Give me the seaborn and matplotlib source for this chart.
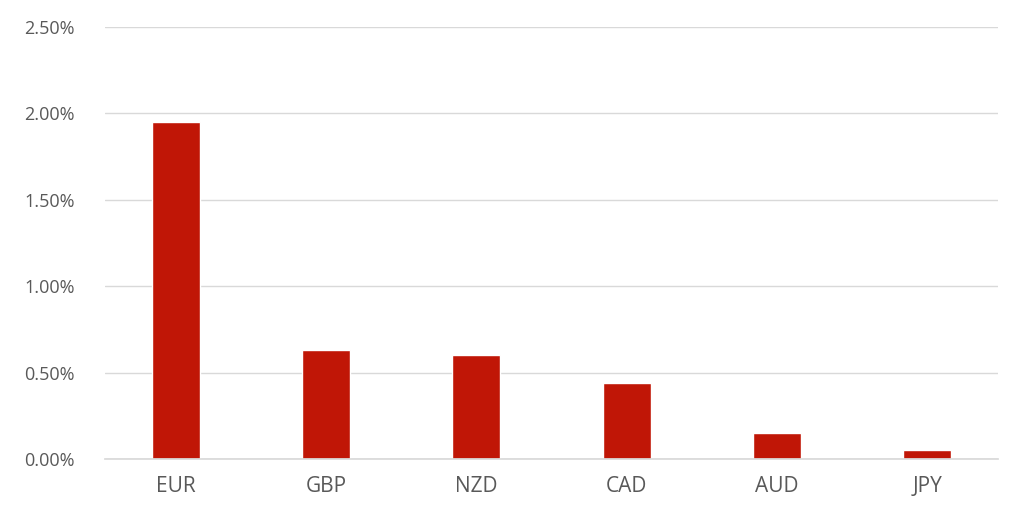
import matplotlib
matplotlib.use("Agg")
import matplotlib.pyplot as plt
import seaborn as sns
import pandas as pd
from matplotlib.ticker import FuncFormatter

currencies = ["EUR", "GBP", "NZD", "CAD", "AUD", "JPY"]
values = [1.95, 0.63, 0.60, 0.44, 0.15, 0.05]
df = pd.DataFrame({"cur": currencies, "val": values})

sns.set_theme(style="white")
plt.rcParams['font.family'] = ['Open Sans', 'DejaVu Sans']

fig = plt.figure(figsize=(10.24, 5.28), dpi=100)
ax = fig.add_axes([105/1024, 69/528, 893/1024, 432/528])
sns.barplot(data=df, x="cur", y="val", color="#c01606", width=0.32, saturation=1, ax=ax)
ax.set_ylim(0, 2.5)
ax.set_xlim(-0.47, 5.47)
ax.set_yticks([0, 0.5, 1.0, 1.5, 2.0, 2.5])
ax.yaxis.set_major_formatter(FuncFormatter(lambda v, p: f"{v:.2f}%"))
ax.yaxis.grid(True, color="#d9d9d9", linewidth=1)
ax.set_axisbelow(True)
for s in ["top", "right", "left"]:
    ax.spines[s].set_visible(False)
ax.spines["bottom"].set_color("#d9d9d9")
ax.tick_params(axis="y", labelsize=13, colors="#595959", length=0, pad=22)
ax.tick_params(axis="x", labelsize=15, colors="#595959", length=0, pad=12)
ax.set_xlabel("")
ax.set_ylabel("")
fig.savefig("out.png", dpi=100)
